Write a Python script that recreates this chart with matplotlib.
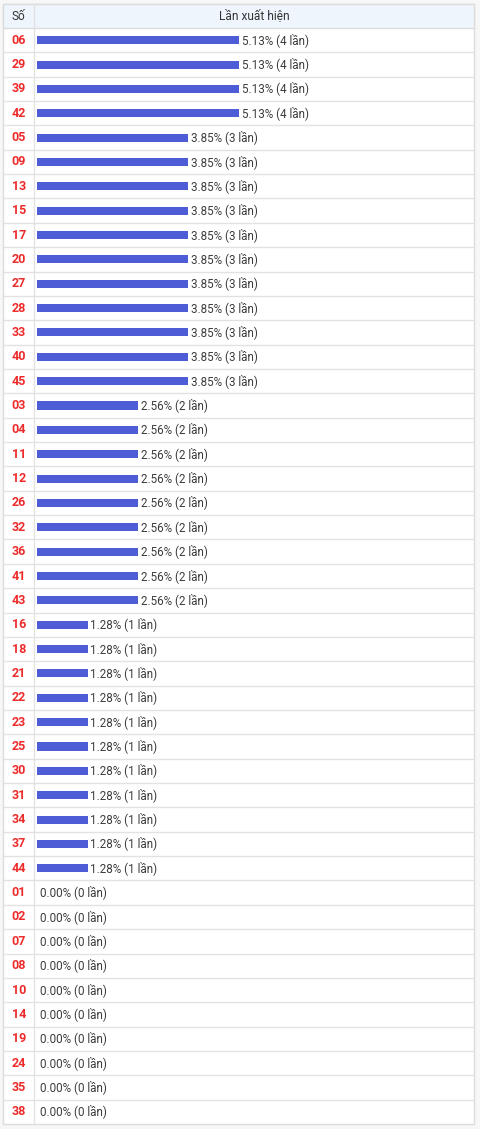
import matplotlib.pyplot as plt
from matplotlib.patches import Rectangle

plt.rcParams['font.family'] = ['Roboto', 'DejaVu Sans']

numbers = ["06", "29", "39", "42",
           "05", "09", "13", "15", "17", "20", "27", "28", "33", "40", "45",
           "03", "04", "11", "12", "26", "32", "36", "41", "43",
           "16", "18", "21", "22", "23", "25", "30", "31", "34", "37", "44",
           "01", "02", "07", "08", "10", "14", "19", "24", "35", "38"]
counts = [4, 4, 4, 4,
          3, 3, 3, 3, 3, 3, 3, 3, 3, 3, 3,
          2, 2, 2, 2, 2, 2, 2, 2, 2,
          1, 1, 1, 1, 1, 1, 1, 1, 1, 1, 1,
          0, 0, 0, 0, 0, 0, 0, 0, 0, 0]
percents = [5.13, 5.13, 5.13, 5.13,
            3.85, 3.85, 3.85, 3.85, 3.85, 3.85, 3.85, 3.85, 3.85, 3.85, 3.85,
            2.56, 2.56, 2.56, 2.56, 2.56, 2.56, 2.56, 2.56, 2.56,
            1.28, 1.28, 1.28, 1.28, 1.28, 1.28, 1.28, 1.28, 1.28, 1.28, 1.28,
            0.0, 0.0, 0.0, 0.0, 0.0, 0.0, 0.0, 0.0, 0.0, 0.0]
header = ["Số", "Lần xuất hiện"]

W, H = 480, 1129
left, right, top, head_bot, bottom = 3, 474, 4, 28, 1124
col_x = 34
n = len(numbers)
row_h = (bottom - head_bot) / n

fig = plt.figure(figsize=(W / 100, H / 100), dpi=100)
fig.patch.set_facecolor('#f7f7f7')

# table grid in pixel coordinates
ax = fig.add_axes([0, 0, 1, 1])
ax.set_xlim(0, W)
ax.set_ylim(H, 0)
ax.axis('off')

ax.add_patch(Rectangle((left, top), right - left, bottom - top, facecolor='white', edgecolor='#dcdcdc', lw=1))
ax.add_patch(Rectangle((left, top), right - left, head_bot - top, facecolor='#eef5fd', edgecolor='#dcdcdc', lw=1))
for i in range(1, n):
    y = head_bot + i * row_h
    ax.plot([left, right], [y, y], color='#e2e2e2', lw=1)
ax.plot([col_x, col_x], [top, bottom], color='#e2e2e2', lw=1)

ax.text((left + col_x) / 2, (top + head_bot) / 2, header[0], ha='center', va='center',
        fontsize=8.6, color='#333333')
ax.text((col_x + right) / 2, (top + head_bot) / 2, header[1], ha='center', va='center',
        fontsize=8.6, color='#333333')

for i, num in enumerate(numbers):
    y = head_bot + (i + 0.5) * row_h
    ax.text((left + col_x) / 2 + 0.5, y, num, ha='center', va='center', fontsize=9,
            fontweight='bold', color='#ee2b2b')

# bars in their own axes: x in counts, y in row index
bar_x0, px_per_count = 37, 50.5
bx = fig.add_axes([bar_x0 / W, 1 - bottom / H, (right - bar_x0) / W, (bottom - head_bot) / H])
bx.set_xlim(0, (right - bar_x0) / px_per_count)
bx.set_ylim(n - 0.5, -0.5)
bx.axis('off')
bx.patch.set_alpha(0)

rows = list(range(n))
bx.barh(rows, counts, height=0.33, color='#4e5cd6')
for i, (c, p) in enumerate(zip(counts, percents)):
    bx.annotate(f"{p:.2f}% ({c} lần)", (c, i), xytext=(2, 0.3), textcoords='offset points',
                ha='left', va='center', fontsize=8.4, color='#3c3c3c')

fig.savefig('out.png', dpi=100, facecolor=fig.get_facecolor())
